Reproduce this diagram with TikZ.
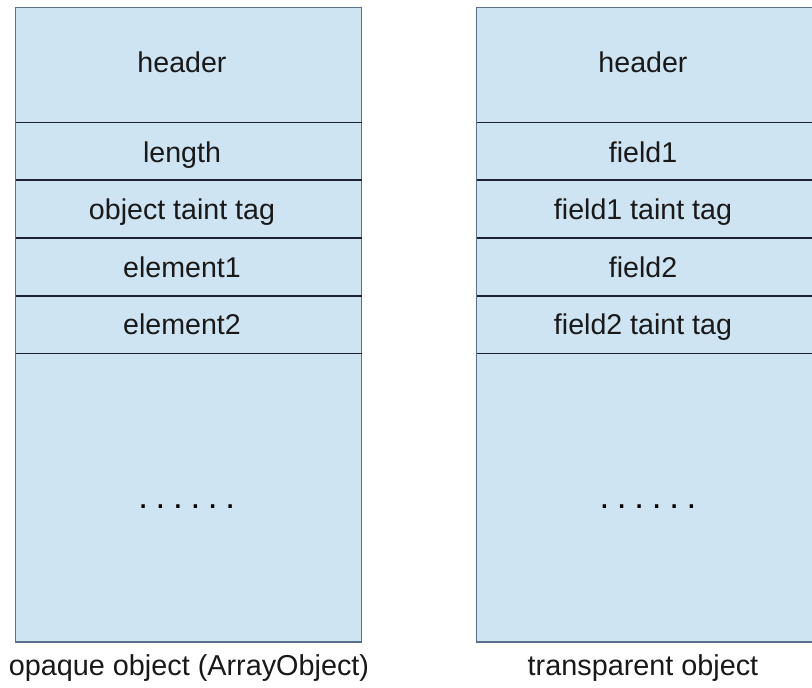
\documentclass[tikz,border=0pt]{standalone}
\usepackage{fontspec}
\setmainfont{Liberation Sans}
\definecolor{boxfill}{HTML}{CFE4F3}
\definecolor{boxedge}{HTML}{5A6E8E}
\definecolor{lineclr}{HTML}{1C2233}
\begin{document}
\begin{tikzpicture}[x=1pt,y=-1pt,
  objbox/.style={fill=boxfill, draw=boxedge, line width=1.3pt},
  divider/.style={draw=lineclr, line width=1.4pt},
  lbl/.style={font=\fontsize{28.6}{33}\selectfont, anchor=base, inner sep=0pt, text=black!90},
  captext/.style={font=\fontsize{28.8}{33}\selectfont, anchor=base, inner sep=0pt, text=black!90},
  dotrow/.style={font=\fontsize{35}{40}\selectfont, anchor=base, inner sep=0pt}]
\useasboundingbox (0,0) rectangle (812,688);
\clip (0,0) rectangle (812,688);
\fill[white] (0,0) rectangle (812,688);
% left object
\draw[objbox] (15.7,7.3) rectangle (361.7,642);
\foreach \yy in {122.5,180,238,296,353.3}
  \draw[divider] (15.7,\yy) -- (361.7,\yy);
% right object
\draw[objbox] (476.7,7.3) rectangle (830,642);
\foreach \yy in {122.5,180,238,296,353.3}
  \draw[divider] (476.7,\yy) -- (830,\yy);
% left labels
\node[lbl] (lhead) at (182,72) {header};
\node[lbl] (llen) at (182,162) {length};
\node[lbl] (ltag) at (182,219) {object taint tag};
\node[lbl] (lel1) at (182,277) {element1};
\node[lbl] (lel2) at (182,334) {element2};
\node[dotrow] (ldots) at (186.7,508.5) {.\kern7.7pt.\kern7.7pt.\kern7.7pt.\kern7.7pt.\kern7.7pt.};
% right labels
\node[lbl] (rhead) at (643,72) {header};
\node[lbl] (rf1) at (643,162) {field1};
\node[lbl] (rt1) at (643,219) {field1 taint tag};
\node[lbl] (rf2) at (643,277) {field2};
\node[lbl] (rt2) at (643,334) {field2 taint tag};
\node[dotrow] (rdots) at (648,508.5) {.\kern7.7pt.\kern7.7pt.\kern7.7pt.\kern7.7pt.\kern7.7pt.};
% captions
\node[captext] (lcap) at (189,675) {opaque object (ArrayObject)};
\node[captext] (rcap) at (643,675) {transparent object};
\end{tikzpicture}
\end{document}
